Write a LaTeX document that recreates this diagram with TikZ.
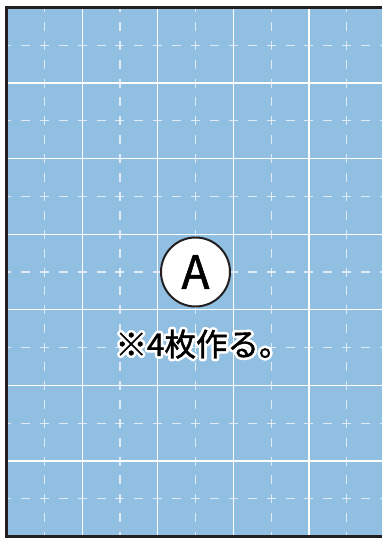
\documentclass[tikz,border=0pt]{standalone}
\usepackage{fontspec}
\newfontfamily\jpfont[FakeBold=1.3]{Noto Sans CJK JP}
\newfontfamily\jphalo[FakeBold=18]{Noto Sans CJK JP}
\definecolor{paper}{RGB}{145,191,225}
\definecolor{edge}{RGB}{35,31,32}
\tikzset{
  gridsolid/.style={white, line width=1.2pt},
  griddash/.style={white, opacity=0.7, line width=1.2pt, dash pattern=on 9pt off 9.9pt, dash phase=4.5pt},
  badge/.style={circle, draw=edge, line width=2pt, fill=white, minimum size=69pt, inner sep=0pt},
  notetext/.style={font=\jpfont\fontsize{31.5}{31.5}\selectfont, inner sep=0pt, anchor=base},
}
\begin{document}
\begin{tikzpicture}[x=1pt,y=1pt]
\useasboundingbox (0,0) rectangle (382,538);
\clip (0,0) rectangle (382,538);
\def\u{37.8}
\coordinate (TL) at (6.5,530.5);
\coordinate (BR) at (384.5,1.3);
\fill[paper] (TL) rectangle (BR);
% dashed half lines
\foreach \k in {1,3,5,7,9} {
  \draw[griddash] (6.5+\k*\u,530.5) -- (6.5+\k*\u,1.3);
}
\foreach \k in {1,3,5,7,9,11,13} {
  \draw[griddash] (6.5,530.5-\k*\u) -- (384.5,530.5-\k*\u);
}
% solid lines
\foreach \k in {2,4,6,8} {
  \draw[gridsolid] (6.5+\k*\u,530.5) -- (6.5+\k*\u,1.3);
}
\foreach \k in {2,4,6,8,10,12} {
  \draw[gridsolid] (6.5,530.5-\k*\u) -- (384.5,530.5-\k*\u);
}
\draw[draw=edge, line width=3pt] (TL) rectangle (BR);
\node[badge] (mark) at (195.5,266) {};
\node[font=\jpfont\fontsize{46}{46}\selectfont, inner sep=0pt] (lbl) at (mark.center) {A};
\node[notetext, color=white, font=\jphalo\fontsize{31.5}{31.5}\selectfont] (halo) at (203,182) {\special{pdf:literal direct 1 1 1 RG 1 j 1 J}※4枚作る。};
\node[notetext] (note) at (halo.base) {※4枚作る。};
\end{tikzpicture}
\end{document}
